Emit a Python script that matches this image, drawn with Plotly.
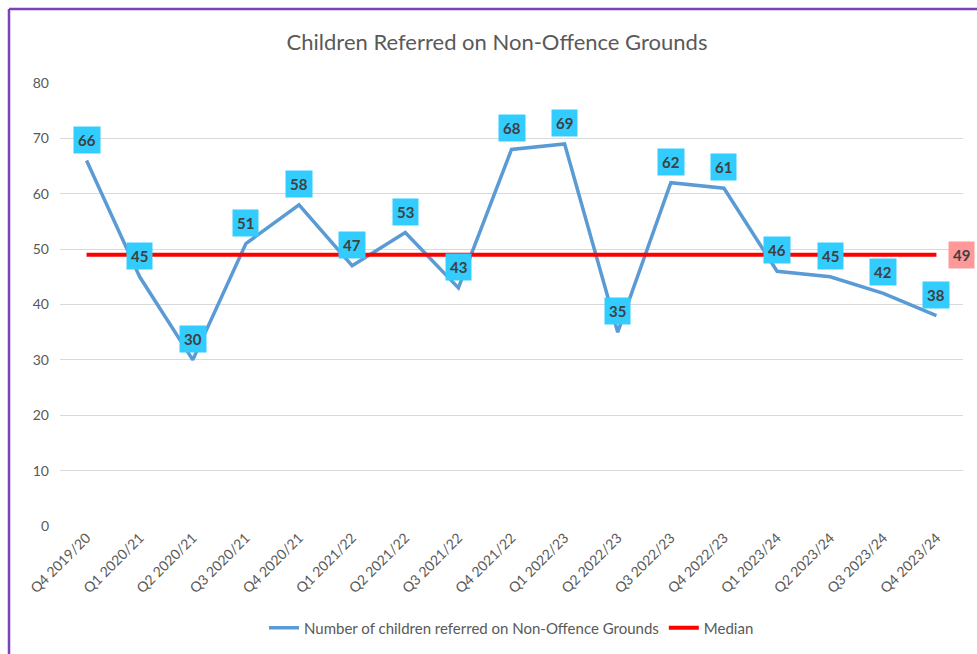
import plotly.graph_objects as go

categories = ["Q4 2019/20", "Q1 2020/21", "Q2 2020/21", "Q3 2020/21", "Q4 2020/21",
              "Q1 2021/22", "Q2 2021/22", "Q3 2021/22", "Q4 2021/22", "Q1 2022/23",
              "Q2 2022/23", "Q3 2022/23", "Q4 2022/23", "Q1 2023/24", "Q2 2023/24",
              "Q3 2023/24", "Q4 2023/24"]
referrals = [66, 45, 30, 51, 58, 47, 53, 43, 68, 69, 35, 62, 61, 46, 45, 42, 38]
median_value = 49
median = [median_value] * len(categories)

FONT = "Lato, Open Sans, sans-serif"
GREY = "#595959"

fig = go.Figure()
fig.add_trace(go.Scatter(
    x=categories, y=referrals, mode="lines",
    name="Number of children referred on Non-Offence Grounds",
    line=dict(color="#5B9BD5", width=3.5),
))
fig.add_trace(go.Scatter(
    x=categories, y=median, mode="lines", name="Median",
    line=dict(color="#FF0000", width=4),
))

annotations = []
for c, v in zip(categories, referrals):
    annotations.append(dict(
        x=c, y=v, xref="x", yref="y", text=f"<b>{v}</b>", showarrow=False,
        yshift=21, bgcolor="#33CCFF", borderpad=4,
        font=dict(family=FONT, size=15, color="#404040"),
    ))
annotations.append(dict(
    x=categories[-1], y=median_value, xref="x", yref="y", text=f"<b>{median_value}</b>",
    showarrow=False, xshift=25, bgcolor="#FF9999", borderpad=4,
    font=dict(family=FONT, size=15, color="#404040"),
))

L, R, T, B = 60, 14, 83, 128
pw = 977 - L - R
ph = 654 - T - B
bx = (9 - L) / pw
by = (526 - 9) / ph

shapes = [
    dict(type="line", xref="paper", yref="paper", x0=bx, x1=bx, y0=by, y1=-0.4,
         line=dict(color="#7B42BC", width=2.5)),
    dict(type="line", xref="paper", yref="paper", x0=bx, x1=1.1, y0=by, y1=by,
         line=dict(color="#7B42BC", width=2.5)),
]

fig.update_layout(
    width=977, height=654,
    margin=dict(l=L, r=R, t=T, b=B, autoexpand=False),
    paper_bgcolor="white", plot_bgcolor="white",
    title=dict(text="Children Referred on Non-Offence Grounds", x=497 / 977, xref="container",
               xanchor="center", y=1 - 42 / 654, yanchor="middle",
               font=dict(family=FONT, size=22, color=GREY)),
    font=dict(family=FONT, color=GREY),
    xaxis=dict(type="category", range=[-0.5, 16.5], tickangle=-45, showgrid=False,
               showline=False, ticks="", automargin=False,
               tickfont=dict(size=14, color=GREY)),
    yaxis=dict(range=[0, 80], dtick=10, showgrid=True, gridcolor="#D9D9D9", gridwidth=1,
               zeroline=False, showline=False, ticks="", automargin=False,
               ticklabelstandoff=10,
               tickfont=dict(size=14, color=GREY)),
    legend=dict(orientation="h", x=0.5, xanchor="center", y=(526 - 628) / ph, yanchor="middle",
                font=dict(size=15, color=GREY)),
    annotations=annotations,
    shapes=shapes,
)

fig.write_html("out.html", config={"displayModeBar": False},
               post_script="document.body.style.margin='0';document.body.style.overflow='hidden';")
